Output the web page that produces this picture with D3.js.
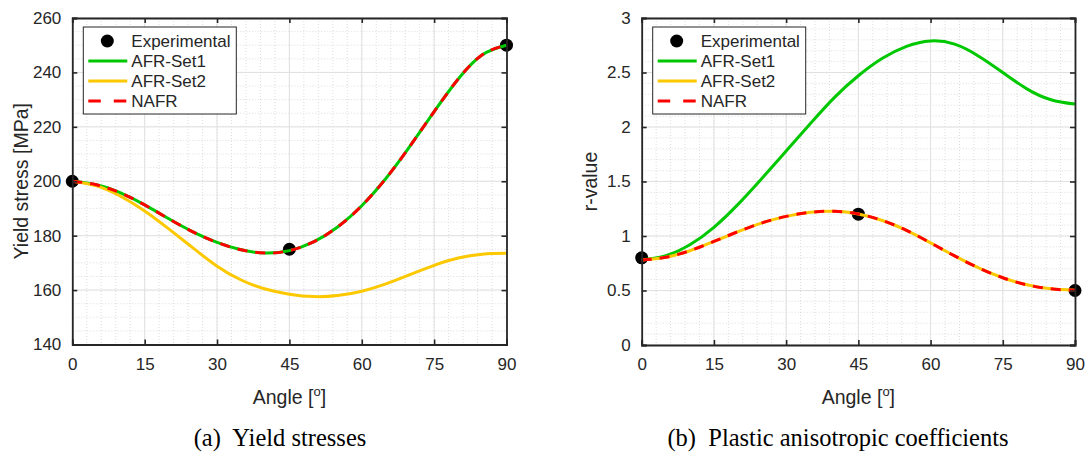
<!DOCTYPE html>
<html>
<head>
<meta charset="utf-8">
<script src="https://cdn.jsdelivr.net/npm/d3@7"></script>
<style>
  body { margin: 0; background: #fff; }
  svg text { font-family: "Liberation Sans", Arial, Helvetica, sans-serif; fill: #262626; }
  svg text.caption { font-family: "Liberation Serif", "Times New Roman", serif; fill: #000; white-space: pre; }
</style>
</head>
<body>
<svg id="chart" width="1088" height="461"></svg>
<script>
// angles used for model curves
const angles = [0, 5, 10, 15, 20, 25, 30, 35, 40, 45, 50, 55, 60, 65, 70, 75, 80, 85, 90];

// (a) yield stresses [MPa]
const stressAFR1 = [200, 198.7, 195.7, 191.3, 186.2, 181.4, 177.5, 174.8, 173.6, 174.5, 177.7, 183.2, 191.0, 201.0, 212.9, 225.6, 237.6, 246.5, 250];
const stressAFR2 = [200, 198.3, 194.5, 189.1, 182.5, 175.5, 168.8, 163.7, 160.4, 158.5, 157.6, 158.0, 159.6, 162.3, 165.7, 169.1, 171.8, 173.2, 173.5];
const stressNAFR = [200, 198.7, 195.7, 191.3, 186.2, 181.4, 177.5, 174.8, 173.6, 174.5, 177.7, 183.2, 191.0, 201.0, 212.9, 225.6, 237.6, 246.5, 250];

// (b) r-values
const rAFR1 = [0.78, 0.82, 0.92, 1.08, 1.29, 1.53, 1.78, 2.03, 2.27, 2.47, 2.63, 2.74, 2.79, 2.76, 2.65, 2.50, 2.35, 2.25, 2.21];
const rAFR2 = [0.78, 0.805, 0.865, 0.95, 1.04, 1.12, 1.18, 1.217, 1.227, 1.202, 1.142, 1.052, 0.937, 0.817, 0.707, 0.617, 0.552, 0.515, 0.502];
const rNAFR = [0.78, 0.805, 0.865, 0.95, 1.04, 1.12, 1.18, 1.217, 1.227, 1.202, 1.142, 1.052, 0.937, 0.817, 0.707, 0.617, 0.552, 0.515, 0.502];

// experiments
const expAngles = [0, 45, 90];
const expStress = [200, 175, 250];
const expR = [0.8, 1.2, 0.5];

const xTicks = [0, 15, 30, 45, 60, 75, 90];
const stressTicks = [140, 160, 180, 200, 220, 240, 260];
const rTicks = [0, 0.5, 1, 1.5, 2, 2.5, 3];
const legendLabels = ["Experimental", "AFR-Set1", "AFR-Set2", "NAFR"];

const green = "#00c800", yellow = "#fcc800", red = "#ff0000", axisCol = "#262626";

const svg = d3.select("#chart");

function drawPanel(o) {
  const x = d3.scaleLinear().domain([0, 90]).range([o.left, o.right]);
  const y = d3.scaleLinear().domain(o.yDomain).range([o.bottom, o.top]);
  const g = svg.append("g");

  // minor grid
  const xMinor = d3.range(0, 90.001, 3);
  const yMinor = d3.range(o.yDomain[0], o.yDomain[1] + 1e-6, o.yMinorStep);
  g.selectAll(".mgx").data(xMinor).join("line")
    .attr("x1", d => x(d)).attr("x2", d => x(d))
    .attr("y1", o.top).attr("y2", o.bottom)
    .attr("stroke", "#d4d4d4").attr("stroke-width", 0.8).attr("stroke-dasharray", "1,2");
  g.selectAll(".mgy").data(yMinor).join("line")
    .attr("x1", o.left).attr("x2", o.right)
    .attr("y1", d => y(d)).attr("y2", d => y(d))
    .attr("stroke", "#d4d4d4").attr("stroke-width", 0.8).attr("stroke-dasharray", "1,2");

  // major grid
  g.selectAll(".gx").data(xTicks).join("line")
    .attr("x1", d => x(d)).attr("x2", d => x(d))
    .attr("y1", o.top).attr("y2", o.bottom)
    .attr("stroke", "#e0e0e0").attr("stroke-width", 1);
  g.selectAll(".gy").data(o.yTicks).join("line")
    .attr("x1", o.left).attr("x2", o.right)
    .attr("y1", d => y(d)).attr("y2", d => y(d))
    .attr("stroke", "#e0e0e0").attr("stroke-width", 1);

  // experimental markers (drawn below the lines)
  g.selectAll(".exp").data(expAngles).join("circle")
    .attr("cx", d => x(d)).attr("cy", (d, i) => y(o.exp[i]))
    .attr("r", 6.5).attr("fill", "#000");

  const line = d3.line().x((d, i) => x(angles[i])).y(d => y(d)).curve(d3.curveNatural);
  g.append("path").datum(o.afr1).attr("d", line).attr("fill", "none")
    .attr("stroke", green).attr("stroke-width", 3);
  g.append("path").datum(o.afr2).attr("d", line).attr("fill", "none")
    .attr("stroke", yellow).attr("stroke-width", 3);
  g.append("path").datum(o.nafr).attr("d", line).attr("fill", "none")
    .attr("stroke", red).attr("stroke-width", 3).attr("stroke-dasharray", "10,8");

  // axes with inward ticks
  const ax = [
    g.append("g").attr("transform", `translate(0,${o.bottom})`)
      .call(d3.axisBottom(x).tickValues(xTicks).tickSize(-5).tickPadding(13)),
    g.append("g").attr("transform", `translate(0,${o.top})`)
      .call(d3.axisTop(x).tickValues(xTicks).tickSize(-5).tickFormat("")),
    g.append("g").attr("transform", `translate(${o.left},0)`)
      .call(d3.axisLeft(y).tickValues(o.yTicks).tickSize(-5).tickPadding(11).tickFormat(o.yFormat)),
    g.append("g").attr("transform", `translate(${o.right},0)`)
      .call(d3.axisRight(y).tickValues(o.yTicks).tickSize(-5).tickFormat(""))
  ];
  ax.forEach(a => {
    a.select(".domain").attr("stroke", axisCol).attr("stroke-width", 1.8);
    a.selectAll(".tick line").attr("stroke", axisCol).attr("stroke-width", 1.6);
    a.selectAll(".tick text").attr("font-size", 17).attr("fill", axisCol);
  });

  // x label
  const xl = g.append("text").attr("x", (o.left + o.right) / 2).attr("y", 404)
    .attr("text-anchor", "middle").attr("font-size", 19.5);
  xl.append("tspan").text("Angle [");
  xl.append("tspan").attr("font-size", 13).attr("dy", -8).text("o");
  xl.append("tspan").attr("dy", 8).text("]");

  // y label
  g.append("text").attr("transform", `translate(${o.yLabelX},${(o.top + o.bottom) / 2}) rotate(-90)`)
    .attr("text-anchor", "middle").attr("font-size", 19.5).text(o.yLabel);

  // legend
  const lx = o.left + 11, ly = 27;
  const lg = g.append("g");
  lg.append("rect").attr("x", lx).attr("y", ly).attr("width", 153).attr("height", 87)
    .attr("fill", "#fff").attr("stroke", axisCol).attr("stroke-width", 1);
  legendLabels.forEach((lab, i) => {
    const cy = ly + 14 + i * 20;
    if (i === 0) {
      lg.append("circle").attr("cx", lx + 24).attr("cy", cy).attr("r", 6.5).attr("fill", "#000");
    } else {
      lg.append("line").attr("x1", lx + 5).attr("x2", lx + 44).attr("y1", cy).attr("y2", cy)
        .attr("stroke", [null, green, yellow, red][i]).attr("stroke-width", 3)
        .attr("stroke-dasharray", i === 3 ? "12.5,13" : null);
    }
    lg.append("text").attr("x", lx + 48).attr("y", cy + 6).attr("font-size", 17).text(lab);
  });

  // caption
  g.append("text").attr("class", "caption").attr("x", o.captionX).attr("y", 446)
    .attr("text-anchor", "middle").attr("font-size", 24.5).text(o.caption);
}

drawPanel({
  left: 72.3, right: 506.5, top: 18, bottom: 344.5,
  yDomain: [140, 260], yTicks: stressTicks, yMinorStep: 5, yFormat: d3.format("d"),
  afr1: stressAFR1, afr2: stressAFR2, nafr: stressNAFR, exp: expStress,
  yLabel: "Yield stress [MPa]", yLabelX: 28,
  caption: "(a)  Yield stresses", captionX: 280
});

drawPanel({
  left: 641.7, right: 1075, top: 18, bottom: 345,
  yDomain: [0, 3], yTicks: rTicks, yMinorStep: 0.1, yFormat: d => String(d),
  afr1: rAFR1, afr2: rAFR2, nafr: rNAFR, exp: expR,
  yLabel: "r-value", yLabelX: 597,
  caption: "(b)  Plastic anisotropic coefficients", captionX: 838
});
</script>
</body>
</html>
